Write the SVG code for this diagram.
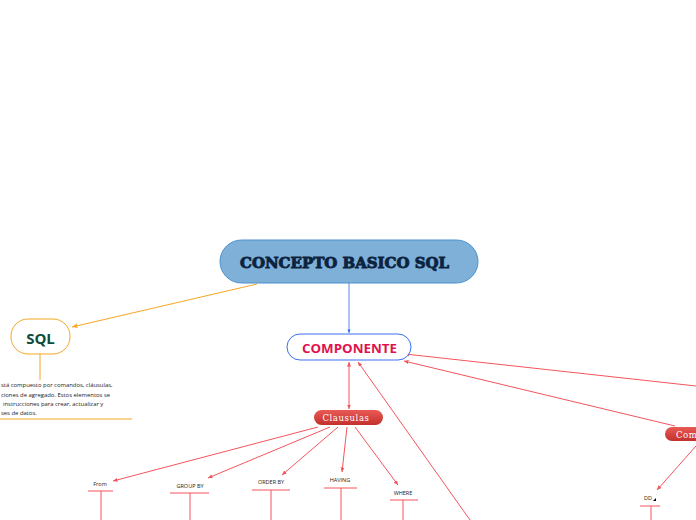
<svg xmlns="http://www.w3.org/2000/svg" width="696" height="520" viewBox="0 0 696 520">
<defs>
<linearGradient id="redg" x1="0" y1="0" x2="0" y2="1">
<stop offset="0" stop-color="#ea5a55"/>
<stop offset="1" stop-color="#c3302d"/>
</linearGradient>
<marker id="ar" viewBox="0 0 10 10" refX="9" refY="5" markerWidth="5" markerHeight="5" orient="auto-start-reverse" markerUnits="userSpaceOnUse">
<path d="M0,1 L9,5 L0,9 Z" fill="#f0545a"/>
</marker>
<marker id="ao" viewBox="0 0 10 10" refX="9" refY="5" markerWidth="6" markerHeight="6" orient="auto" markerUnits="userSpaceOnUse">
<path d="M0,1 L9,5 L0,9 Z" fill="#f5a623"/>
</marker>
<marker id="ab" viewBox="0 0 10 10" refX="9" refY="5" markerWidth="4" markerHeight="4" orient="auto" markerUnits="userSpaceOnUse">
<path d="M0,1 L9,5 L0,9 Z" fill="#3b6ff0"/>
</marker>
</defs>
<style>
.r{stroke:#f4555c;stroke-width:1;fill:none}
.lbl{font-family:"Open Sans","Liberation Sans",sans-serif;font-size:5.5px;fill:#222;text-anchor:middle}
.desc{font-family:"Open Sans","Liberation Sans",sans-serif;font-size:5.9px;fill:#222}
.pill{font-family:"DejaVu Serif","Liberation Serif",serif;font-size:8.5px;fill:#fff;letter-spacing:0.6px}
</style>
<g id="connectors">
<line x1="257" y1="284" x2="72" y2="327" stroke="#f5a623" stroke-width="1" marker-end="url(#ao)"/>
<line x1="349" y1="283" x2="349" y2="333" stroke="#5b87f0" stroke-width="1" marker-end="url(#ab)"/>
<line class="r" x1="349" y1="409" x2="349" y2="362" marker-start="url(#ar)" marker-end="url(#ar)"/>
<line class="r" x1="470" y1="520" x2="358" y2="362" marker-end="url(#ar)"/>
<line class="r" x1="696" y1="386" x2="405" y2="354" marker-end="url(#ar)"/>
<line class="r" x1="675" y1="426" x2="404" y2="361" marker-end="url(#ar)"/>
<line class="r" x1="318" y1="427" x2="113" y2="481" marker-end="url(#ar)"/>
<line class="r" x1="330" y1="427" x2="208" y2="478" marker-end="url(#ar)"/>
<line class="r" x1="338" y1="427" x2="282" y2="475" marker-end="url(#ar)"/>
<line class="r" x1="347" y1="427" x2="342" y2="472" marker-end="url(#ar)"/>
<line class="r" x1="355" y1="427" x2="398" y2="485" marker-end="url(#ar)"/>
<line class="r" x1="696" y1="446" x2="657" y2="490" marker-end="url(#ar)"/>
</g>
<g id="main">
<rect x="220" y="240" width="258" height="43" rx="21.5" fill="#7eb0d8" stroke="#4a90d0" stroke-width="1"/>
<text x="344.5" y="268" font-family="DejaVu Serif" font-weight="bold" font-size="15" fill="#0c2340" text-anchor="middle" textLength="209" lengthAdjust="spacingAndGlyphs" stroke="#0c2340" stroke-width="0.9">CONCEPTO BASICO SQL</text>
</g>
<g id="sql">
<rect x="11" y="319" width="59" height="35" rx="17" fill="#fff" stroke="#f5a623" stroke-width="1"/>
<text x="40.5" y="344" font-family="Open Sans" font-weight="bold" font-size="15" fill="#0d4d3c" text-anchor="middle">SQL</text>
<line x1="40" y1="354" x2="40" y2="380" stroke="#f5a623" stroke-width="1"/>
<text class="desc" x="1" y="387">stá compuesto por comandos, cláusulas,</text>
<text class="desc" x="1" y="397">ciones de agregado. Estos elementos se</text>
<text class="desc" x="3" y="406">instrucciones para crear, actualizar y</text>
<text class="desc" x="1" y="415">ses de datos.</text>
<line x1="0" y1="419" x2="132" y2="419" stroke="#f5a623" stroke-width="1"/>
</g>
<g id="componente">
<rect x="287" y="334" width="124" height="26" rx="13" fill="#fff" stroke="#3b6ff0" stroke-width="1"/>
<text x="349.5" y="353" font-family="Open Sans" font-weight="bold" font-size="13" fill="#e0124d" text-anchor="middle" textLength="95" lengthAdjust="spacingAndGlyphs">COMPONENTE</text>
</g>
<g id="clausulas">
<rect x="314" y="410" width="69" height="15" rx="7.5" fill="url(#redg)"/>
<text class="pill" x="346" y="421" text-anchor="middle">Clausulas</text>
</g>
<g id="comandos">
<rect x="665" y="427" width="70" height="14" rx="7" fill="url(#redg)"/>
<text class="pill" x="676" y="438">Comandos</text>
</g>
<g id="from">
<text class="lbl" x="100" y="486">From</text>
<line class="r" x1="88" y1="491" x2="113" y2="491"/>
<line class="r" x1="101" y1="491" x2="101" y2="520"/>
</g>
<g id="groupby">
<text class="lbl" x="190" y="488">GROUP BY</text>
<line class="r" x1="170" y1="493" x2="209" y2="493"/>
<line class="r" x1="190" y1="493" x2="190" y2="520"/>
</g>
<g id="orderby">
<text class="lbl" x="271" y="484">ORDER BY</text>
<line class="r" x1="252" y1="490" x2="290" y2="490"/>
<line class="r" x1="271" y1="490" x2="271" y2="520"/>
</g>
<g id="having">
<text class="lbl" x="340" y="482">HAVING</text>
<line class="r" x1="324" y1="488" x2="357" y2="488"/>
<line class="r" x1="341" y1="488" x2="341" y2="520"/>
</g>
<g id="where">
<text class="lbl" x="403" y="495">WHERE</text>
<line class="r" x1="390" y1="500" x2="418" y2="500"/>
<line class="r" x1="403" y1="500" x2="403" y2="520"/>
</g>
<g id="dd">
<text class="lbl" x="648" y="500">DD</text>
<path d="M653,501 L656,498 L656,501 Z" fill="#000"/>
<line class="r" x1="640" y1="506" x2="660" y2="506"/>
<line class="r" x1="651" y1="506" x2="651" y2="520"/>
</g>
</svg>
